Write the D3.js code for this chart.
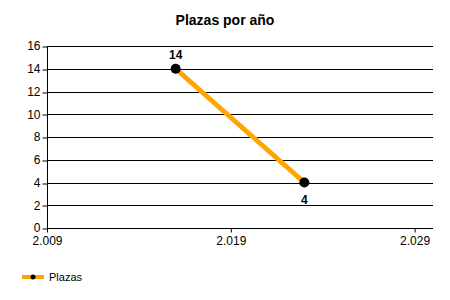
<!DOCTYPE html>
<html><head><meta charset="utf-8">
<script src="https://cdn.jsdelivr.net/npm/d3@7"></script>
<style>body{margin:0;background:#fff}svg{display:block}text{font-family:"Liberation Sans",Arial,sans-serif}</style>
</head><body><svg id="c" width="450" height="300"></svg>
<script>
const years = [2016, 2023];
const plazas = [14, 4];
const xTicks = [2009, 2019, 2029];
const yTicks = [0, 2, 4, 6, 8, 10, 12, 14, 16];
const seriesName = "Plazas";
const title = "Plazas por año";

const svg = d3.select("#c");
const L = 47, R = 433, T = 46, B = 228;
const x = d3.scaleLinear().domain([2009, 2030]).range([L, R]);
const y = d3.scaleLinear().domain([0, 16]).range([B, T]);
const fmt = v => d3.format(",")(v).replace(",", ".");

svg.append("text").attr("x", 225).attr("y", 25).attr("text-anchor", "middle")
  .attr("font-size", 14).attr("font-weight", "bold").text(title);

// gridlines
svg.append("g").selectAll("line").data(yTicks).join("line")
  .attr("x1", L).attr("x2", R).attr("y1", d => Math.round(y(d)) + 0.5).attr("y2", d => Math.round(y(d)) + 0.5)
  .attr("stroke", "#000");

const yAxis = svg.append("g").attr("transform", `translate(${L + 0.5},0)`)
  .call(d3.axisLeft(y).tickValues(yTicks).tickSize(5).tickPadding(2).tickFormat(d3.format("d")));
yAxis.select(".domain").attr("d", `M0,${T}V${B}`);
yAxis.selectAll("text").attr("font-size", 12).attr("font-family", "Liberation Sans, Arial, sans-serif").attr("fill", "#000");
yAxis.selectAll("line").attr("transform", d => `translate(0,${Math.round(y(d)) + 0.5 - y(d)})`);

const xAxis = svg.append("g").attr("transform", `translate(0,${B + 0.5})`)
  .call(d3.axisBottom(x).tickValues(xTicks).tickSize(4).tickPadding(4).tickFormat(fmt));
xAxis.select(".domain").attr("d", `M${L},0H${R}`);
xAxis.selectAll("text").attr("font-size", 12).attr("font-family", "Liberation Sans, Arial, sans-serif").attr("fill", "#000");

const pts = years.map((yr, i) => [yr, plazas[i]]);
svg.append("path").datum(pts)
  .attr("d", d3.line().x(d => x(d[0])).y(d => y(d[1])))
  .attr("fill", "none").attr("stroke", "#FFA500").attr("stroke-width", 5);
svg.append("g").selectAll("circle").data(pts).join("circle")
  .attr("cx", d => x(d[0])).attr("cy", d => y(d[1])).attr("r", 5).attr("fill", "#000");
svg.append("g").selectAll("text").data(pts).join("text")
  .attr("x", d => x(d[0])).attr("y", (d, i) => i === 0 ? y(d[1]) - 10 : y(d[1]) + 21)
  .attr("text-anchor", "middle").attr("font-size", 12).attr("font-weight", "bold").text(d => d[1]);

// legend
const lg = svg.append("g");
lg.append("line").attr("x1", 22).attr("x2", 44).attr("y1", 277).attr("y2", 277).attr("stroke", "#FFA500").attr("stroke-width", 4);
lg.append("circle").attr("cx", 33).attr("cy", 277).attr("r", 2.5).attr("fill", "#000");
lg.append("text").attr("x", 49).attr("y", 281).attr("font-size", 11).text(seriesName);
</script></body></html>
